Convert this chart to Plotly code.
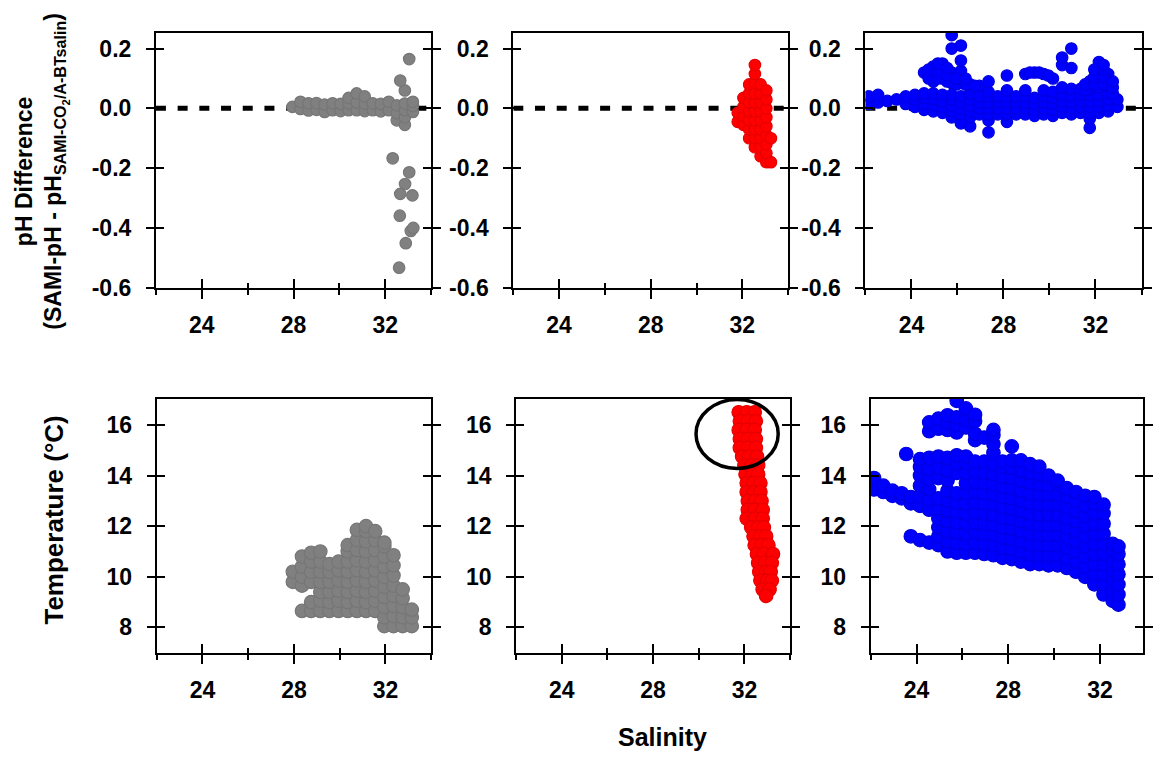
import plotly.graph_objects as go

# ------------------------------------------------------------------
# Data: salinity vs pH difference (top row) and temperature (bottom row)
# for three deployments (grey, red, blue).  Dense clouds are stored as
# salinity columns, each with the values observed in that column.
# ------------------------------------------------------------------

# Deployment 1 (grey) - pH difference
grey_ph_sal = [27.95, 28.3, 28.65, 29.0, 29.35, 29.7, 30.05, 30.4, 30.75,
               31.1, 31.45, 31.8, 32.15, 32.5, 32.85, 33.2]
grey_ph_cols = [
    [0.005],
    [-0.002, 0.022],
    [-0.007, 0.017],
    [-0.005, 0.018],
    [-0.012, 0.013],
    [-0.006, 0.017],
    [-0.009, 0.015],
    [-0.006, 0.017, 0.035],
    [-0.006, 0.02, 0.05],
    [-0.009, 0.016, 0.04],
    [-0.006, 0.017],
    [-0.01, 0.015],
    [-0.006, 0.022],
    [-0.04, -0.016, 0.01],
    [-0.055, -0.03, -0.006, 0.016, 0.06],
    [-0.012, 0.008, 0.022],
]
grey_ph_extra_sal = [33.04, 32.65, 32.32, 33.04, 32.86, 32.65, 33.18, 32.63,
                     33.11, 33.22, 32.89, 32.6]
grey_ph_extra_val = [0.165, 0.093, -0.167, -0.214, -0.253, -0.286, -0.291,
                     -0.359, -0.41, -0.40, -0.451, -0.533]

# Deployment 2 (red) - pH difference
red_ph_sal = [31.8, 32.05, 32.3, 32.55, 32.8, 33.05, 33.25]
red_ph_cols = [
    [-0.045, -0.015],
    [-0.055, -0.025, 0.005, 0.035],
    [-0.1, -0.07, -0.04, -0.01, 0.02, 0.05, 0.08],
    [-0.13, -0.1, -0.07, -0.04, -0.01, 0.02, 0.05, 0.085, 0.115, 0.145],
    [-0.16, -0.13, -0.1, -0.07, -0.04, -0.01, 0.02, 0.05, 0.08],
    [-0.18, -0.15, -0.12, -0.09, -0.06, -0.03, 0.0, 0.03, 0.06],
    [-0.18, -0.1],
]

# Deployment 3 (blue) - pH difference
blue_ph_sal = [22.15, 22.55, 22.95, 23.35, 23.75, 24.15, 24.55, 24.95, 25.35,
               25.75, 26.15, 26.55, 26.95, 27.35, 27.75, 28.15, 28.55, 28.95,
               29.35, 29.75, 30.15, 30.55, 30.95, 31.35, 31.75, 32.15, 32.55,
               32.95]
blue_ph_cols = [
    [0.015, 0.04],
    [0.02, 0.045],
    [0.025],
    [0.03],
    [0.015, 0.04],
    [0.005, 0.03, 0.045],
    [-0.005, 0.015, 0.035, 0.05, 0.12],
    [-0.01, 0.01, 0.03, 0.05, 0.09, 0.14],
    [-0.015, 0.005, 0.025, 0.045, 0.1, 0.15],
    [-0.03, -0.01, 0.01, 0.03, 0.045, 0.085, 0.12, 0.2, 0.245],
    [-0.05, -0.02, 0.0, 0.02, 0.04, 0.085, 0.125, 0.16, 0.21],
    [-0.06, -0.03, -0.01, 0.01, 0.03, 0.05, 0.08],
    [-0.02, 0.0, 0.02, 0.04, 0.075],
    [-0.08, -0.04, -0.02, 0.0, 0.02, 0.04, 0.055, 0.09],
    [-0.02, 0.0, 0.02, 0.04],
    [-0.045, -0.02, 0.0, 0.02, 0.04, 0.06, 0.11],
    [-0.02, 0.0, 0.02, 0.04],
    [-0.02, 0.0, 0.02, 0.04, 0.06, 0.115],
    [-0.025, -0.005, 0.015, 0.035, 0.12],
    [-0.02, 0.0, 0.02, 0.04, 0.06, 0.115],
    [-0.025, -0.005, 0.015, 0.035, 0.055, 0.1],
    [-0.015, 0.005, 0.025, 0.045, 0.07, 0.145, 0.17],
    [-0.02, 0.0, 0.02, 0.04, 0.065, 0.135, 0.2],
    [-0.015, 0.005, 0.025, 0.045, 0.065],
    [-0.065, -0.035, -0.015, 0.005, 0.025, 0.045, 0.065, 0.09],
    [-0.015, 0.005, 0.025, 0.045, 0.07, 0.095, 0.12, 0.14, 0.155],
    [-0.01, 0.01, 0.03, 0.05, 0.075, 0.1, 0.115],
    [0.005, 0.03],
]
# in-between readings of the blue pH cloud (upper blob, bar and peak)
blue_ph_extra_sal = [24.75, 24.75, 25.15, 25.15, 25.15, 25.55, 25.55, 25.55,
                     25.95, 25.95, 26.35, 26.35, 26.75,
                     29.15, 29.55, 29.95,
                     31.55, 31.55, 31.95, 31.95, 31.95, 32.35, 32.35, 32.35,
                     32.35, 32.75, 32.75, 32.75]
blue_ph_extra_val = [0.1, 0.13, 0.1, 0.125, 0.15, 0.09, 0.11, 0.135,
                     0.08, 0.1, 0.08, 0.1, 0.075,
                     0.12, 0.12, 0.11,
                     0.06, 0.08, 0.08, 0.105, 0.13, 0.08, 0.105, 0.13,
                     0.145, 0.05, 0.07, 0.09]

# Deployment 1 (grey) - temperature
grey_t_sal = [27.95, 28.35, 28.75, 29.15, 29.55, 29.95, 30.35, 30.75, 31.15,
              31.55, 31.95, 32.35, 32.75, 33.15]
grey_t_cols = [
    [9.8, 10.2],
    [8.65, 9.65, 10.0, 10.4, 10.8],
    [8.65, 9.0, 9.8, 10.2, 10.6, 10.95],
    [8.65, 9.05, 9.4, 9.8, 10.2, 10.6, 11.0],
    [8.65, 9.0, 9.4, 9.8, 10.2, 10.5],
    [8.65, 9.05, 9.45, 9.85, 10.25, 10.6],
    [8.65, 9.0, 9.4, 9.8, 10.2, 10.6, 11.0, 11.25],
    [8.65, 9.05, 9.45, 9.85, 10.25, 10.65, 11.05, 11.45, 11.85],
    [8.65, 9.0, 9.4, 9.8, 10.2, 10.6, 11.0, 11.4, 11.8, 12.0],
    [8.65, 9.05, 9.45, 9.85, 10.25, 10.65, 11.05, 11.45, 11.8],
    [8.05, 8.4, 8.8, 9.2, 9.6, 10.0, 10.4, 10.8, 11.2, 11.35],
    [8.05, 8.45, 8.85, 9.25, 9.65, 10.05, 10.45, 10.85],
    [8.05, 8.4, 8.8, 9.15, 9.5],
    [8.05, 8.4, 8.7],
]

# Deployment 2 (red) - temperature, stored as temperature rows
red_t_rows = [16.5, 16.15, 15.8, 15.45, 15.1, 14.75, 14.4, 14.05, 13.7, 13.35,
              13.0, 12.65, 12.3, 11.95, 11.6, 11.25, 10.9, 10.55, 10.2, 9.85,
              9.5, 9.25]
red_t_row_sal = [
    [31.75, 32.1, 32.45],
    [31.8, 32.15, 32.5],
    [31.75, 32.1, 32.45],
    [31.8, 32.15, 32.5],
    [31.8, 32.15, 32.5],
    [31.9, 32.2, 32.55],
    [32.0, 32.3, 32.6],
    [32.05, 32.35, 32.6],
    [32.1, 32.4, 32.7],
    [32.1, 32.4, 32.7],
    [32.15, 32.45, 32.75],
    [32.15, 32.45, 32.8],
    [32.1, 32.45, 32.8],
    [32.3, 32.6, 32.85],
    [32.4, 32.7, 32.95],
    [32.45, 32.75, 33.05],
    [32.55, 32.85, 33.25],
    [32.6, 32.9, 33.2],
    [32.65, 32.95, 33.15],
    [32.7, 33.0, 33.2],
    [32.8, 33.1],
    [32.95],
]

# Deployment 3 (blue) - temperature
blue_t_sal = [22.15, 22.55, 22.95, 23.35, 23.75, 24.15, 24.55, 24.95, 25.35,
              25.75, 26.15, 26.55, 26.95, 27.35, 27.75, 28.15, 28.55, 28.95,
              29.35, 29.75, 30.15, 30.55, 30.95, 31.35, 31.75, 32.15, 32.55,
              32.8]
blue_t_cols = [
    [13.45, 13.9],
    [13.35, 13.6],
    [13.2, 13.4],
    [13.1, 13.3],
    [11.6, 12.9, 13.15],
    [11.45, 12.8, 13.2, 13.6, 14.0, 14.35, 14.65],
    [11.35, 12.65, 13.05, 13.45, 13.85, 14.25, 14.7, 15.75, 16.1],
    [11.25, 11.6, 11.95, 12.3, 12.7, 13.1, 13.9, 14.3, 14.75, 15.85, 16.25],
    [11.0, 11.4, 11.8, 12.2, 12.6, 13.0, 13.4, 13.8, 14.2, 14.7, 15.8, 16.1,
     16.38],
    [10.95, 11.35, 11.75, 12.15, 12.55, 12.95, 13.3, 14.1, 14.45, 14.8, 15.7,
     16.0, 16.3, 16.95],
    [10.95, 11.3, 11.7, 12.1, 12.5, 12.9, 13.3, 13.7, 14.1, 14.5, 14.75, 15.9,
     16.2, 16.65],
    [10.95, 11.35, 11.75, 12.15, 12.55, 12.95, 13.35, 13.75, 14.15, 14.55,
     15.4, 15.65, 16.15, 16.4],
    [10.9, 11.3, 11.7, 12.1, 12.5, 12.9, 13.3, 13.7, 14.1, 14.55, 15.5],
    [10.85, 11.25, 11.65, 12.05, 12.45, 12.85, 13.25, 13.65, 14.05, 14.45,
     14.9, 15.25, 15.6, 15.8],
    [10.75, 11.15, 11.55, 11.95, 12.35, 12.75, 13.15, 13.55, 13.95, 14.35,
     14.55],
    [10.7, 11.1, 11.5, 11.9, 12.3, 12.7, 13.1, 13.5, 13.9, 14.3, 14.6, 15.15],
    [10.6, 11.0, 11.4, 11.8, 12.2, 12.6, 13.0, 13.4, 13.8, 14.2, 14.6],
    [10.5, 10.9, 11.3, 11.7, 12.1, 12.5, 12.9, 13.3, 13.7, 14.1, 14.45],
    [10.5, 10.85, 11.25, 11.65, 12.05, 12.45, 12.85, 13.25, 13.65, 14.05,
     14.35],
    [10.45, 10.85, 11.25, 11.65, 12.05, 12.45, 12.85, 13.25, 13.6, 14.0],
    [10.45, 10.85, 11.25, 11.65, 12.05, 12.45, 12.85, 13.25, 13.65, 13.8],
    [10.35, 10.75, 11.15, 11.55, 11.95, 12.35, 12.75, 13.15, 13.5],
    [10.2, 10.6, 11.0, 11.4, 11.8, 12.2, 12.6, 13.0, 13.35],
    [10.0, 10.4, 10.8, 11.2, 11.6, 12.0, 12.4, 12.8, 13.2],
    [9.7, 10.1, 10.5, 10.9, 11.3, 11.7, 12.1, 12.5, 12.9, 13.15],
    [9.3, 9.7, 10.1, 10.5, 10.9, 11.3, 11.7, 12.1, 12.5, 12.85],
    [9.05, 9.45, 9.85, 10.25, 10.65, 11.05, 11.3],
    [8.9, 9.3, 9.7, 10.1, 10.5, 10.9, 11.2],
]
blue_t_extra_sal = [23.55]
blue_t_extra_val = [14.85]

# Zero-difference reference line
zero_line_sal = [22, 34]
zero_line_ph = [0.0, 0.0]

# Tick labels
sal_tickvals = [24, 28, 32]
sal_ticktext = ["24", "28", "32"]
sal_minorvals = [22, 26, 30, 34]
ph_tickvals = [-0.6, -0.4, -0.2, 0.0, 0.2]
ph_ticktext = ["-0.6", "-0.4", "-0.2", "0.0", "0.2"]
t_tickvals = [8, 10, 12, 14, 16]
t_ticktext = ["8", "10", "12", "14", "16"]

# Highlighted region (ellipse) in the red temperature panel
ring_sal = (29.88, 33.48)
ring_temp = (14.28, 17.0)


def columns_to_points(sal, cols):
    xs, ys = [], []
    for s, col in zip(sal, cols):
        for v in col:
            xs.append(s)
            ys.append(v)
    return xs, ys


def rows_to_points(rows, row_sal):
    xs, ys = [], []
    for t, sals in zip(rows, row_sal):
        for s in sals:
            xs.append(s)
            ys.append(t)
    return xs, ys


# design canvas (the figure itself stretches to fill the page)
W, H = 1153, 767
FONT = "Liberation Sans, Arial, sans-serif"

# panel frames on the design canvas: (left, right), (top, bottom), x/y ranges
frames = [
    ((157.3, 435.0), (33.3, 292.7), [22, 34], [-0.6, 0.253]),
    ((517.8, 795.0), (33.3, 292.7), [22, 34], [-0.6, 0.253]),
    ((873.0, 1151.5), (33.3, 292.7), [22, 34], [-0.6, 0.253]),
    ((158.1, 435.0), (405.7, 664.0), [22, 34], [7, 17.03]),
    ((520.6, 797.0), (405.7, 664.0), [22, 34], [7, 17.03]),
    ((878.3, 1153.0), (405.7, 664.0), [22, 33.87], [7, 17.03]),
]

fig = go.Figure()


def ax_name(kind, i):
    return kind if i == 1 else f"{kind}{i}"


tickfont = dict(family=FONT, size=23, color="black", weight="bold")
layout_axes = {}
for i, ((xl, xr_), (yt, yb), xrng, yrng) in enumerate(frames, start=1):
    top_row = i <= 3
    xdom = [xl / W, xr_ / W]
    ydom = [1 - yb / H, 1 - yt / H]
    yv = ph_tickvals if top_row else t_tickvals
    yt_txt = ph_ticktext if top_row else t_ticktext
    j = i + 6
    common_x = dict(range=xrng, tickmode="array", tickvals=sal_tickvals,
                    ticktext=sal_ticktext, ticklen=9, tickwidth=2,
                    tickcolor="black", showgrid=False, zeroline=False,
                    tickfont=tickfont, fixedrange=True)
    layout_axes["xaxis" if i == 1 else f"xaxis{i}"] = dict(
        common_x, domain=xdom, anchor=ax_name("y", i), ticks="outside",
        showline=True, linewidth=2, linecolor="black", mirror=True,
        ticklabelstandoff=7,
        minor=dict(tickmode="array", tickvals=sal_minorvals, ticks="outside",
                   ticklen=5, tickwidth=2, tickcolor="black", showgrid=False))
    layout_axes[f"xaxis{j}"] = dict(
        common_x, domain=xdom, anchor=ax_name("y", i),
        overlaying=ax_name("x", i), ticks="inside", showline=False,
        showticklabels=False,
        minor=dict(tickmode="array", tickvals=sal_minorvals, ticks="inside",
                   ticklen=5, tickwidth=2, tickcolor="black", showgrid=False))
    common_y = dict(range=yrng, tickmode="array", tickvals=yv, ticktext=yt_txt,
                    ticklen=8, tickwidth=2, tickcolor="black", showgrid=False,
                    zeroline=False, tickfont=tickfont, fixedrange=True)
    layout_axes["yaxis" if i == 1 else f"yaxis{i}"] = dict(
        common_y, domain=ydom, anchor=ax_name("x", i), ticks="outside",
        showline=True, linewidth=2, linecolor="black", mirror="ticks",
        ticklabelstandoff=10)
    layout_axes[f"yaxis{j}"] = dict(
        common_y, domain=ydom, anchor=ax_name("x", i),
        overlaying=ax_name("y", i), ticks="inside", showline=False,
        mirror="ticks", showticklabels=False)
    # keep the inside-tick overlay subplot alive
    fig.add_trace(go.Scatter(x=[None], y=[None], xaxis=f"x{j}", yaxis=f"y{j}",
                             showlegend=False, hoverinfo="skip"))

# dashed zero lines under the pH clouds
for i in (1, 2, 3):
    fig.add_trace(go.Scatter(
        x=zero_line_sal, y=zero_line_ph, mode="lines",
        line=dict(color="black", width=5, dash="10px,11.7px"),
        xaxis=ax_name("x", i), yaxis=ax_name("y", i),
        showlegend=False, hoverinfo="skip"))

colors = {
    "grey": ("#808080", "#767676"),
    "red": ("#ff0000", "#e60000"),
    "blue": ("#0000ff", "#0000e0"),
}


def add_cloud(xs, ys, panel, style, size):
    fill, edge = colors[style]
    fig.add_trace(go.Scatter(
        x=xs, y=ys, mode="markers",
        marker=dict(size=size, color=fill, line=dict(color=edge, width=1.2)),
        xaxis=ax_name("x", panel), yaxis=ax_name("y", panel),
        showlegend=False, hoverinfo="skip"))


PH_SIZE = 11.5
T_SIZE = 13.5

gx, gy = columns_to_points(grey_ph_sal, grey_ph_cols)
add_cloud(gx + grey_ph_extra_sal, gy + grey_ph_extra_val, 1, "grey", PH_SIZE)
rx, ry = columns_to_points(red_ph_sal, red_ph_cols)
add_cloud(rx, ry, 2, "red", PH_SIZE)
bx, by = columns_to_points(blue_ph_sal, blue_ph_cols)
add_cloud(bx + blue_ph_extra_sal, by + blue_ph_extra_val, 3, "blue", PH_SIZE)

gx, gy = columns_to_points(grey_t_sal, grey_t_cols)
add_cloud(gx, gy, 4, "grey", T_SIZE)
rx, ry = rows_to_points(red_t_rows, red_t_row_sal)
add_cloud(rx, ry, 5, "red", T_SIZE)
bx, by = columns_to_points(blue_t_sal, blue_t_cols)
add_cloud(bx + blue_t_extra_sal, by + blue_t_extra_val, 6, "blue", T_SIZE)

fig.add_shape(type="circle", xref="x5", yref="y5",
              x0=ring_sal[0], x1=ring_sal[1], y0=ring_temp[0], y1=ring_temp[1],
              line=dict(color="black", width=3.5))

title_font = dict(family=FONT, color="black", weight="bold")
annotations = [
    dict(text="pH Difference<br>(SAMI-pH - pH<sub>SAMI-CO<sub>2</sub>/A-BTsalin</sub>)",
         x=41 / W, y=1 - 174 / H, textangle=-90,
         font=dict(title_font, size=23)),
    dict(text="Temperature (°C)", x=55 / W, y=1 - 529 / H, textangle=-90,
         font=dict(title_font, size=26)),
    dict(text="Salinity", x=668 / W, y=1 - 750 / H,
         font=dict(title_font, size=25)),
]
for a in annotations:
    a.update(xref="paper", yref="paper", showarrow=False,
             xanchor="center", yanchor="middle")

fig.update_layout(
    autosize=True,
    margin=dict(l=0, r=0, t=0, b=0),
    paper_bgcolor="white", plot_bgcolor="white",
    showlegend=False,
    annotations=annotations,
    **layout_axes,
)

# the figure fills the whole page, with no body margin or scrollbars
fig.write_html(
    "out.html",
    default_width="100vw",
    default_height="100vh",
    post_script="document.body.style.margin='0';"
                "document.body.style.overflow='hidden';"
                "Plotly.Plots.resize(document.getElementById('{plot_id}'));",
)
